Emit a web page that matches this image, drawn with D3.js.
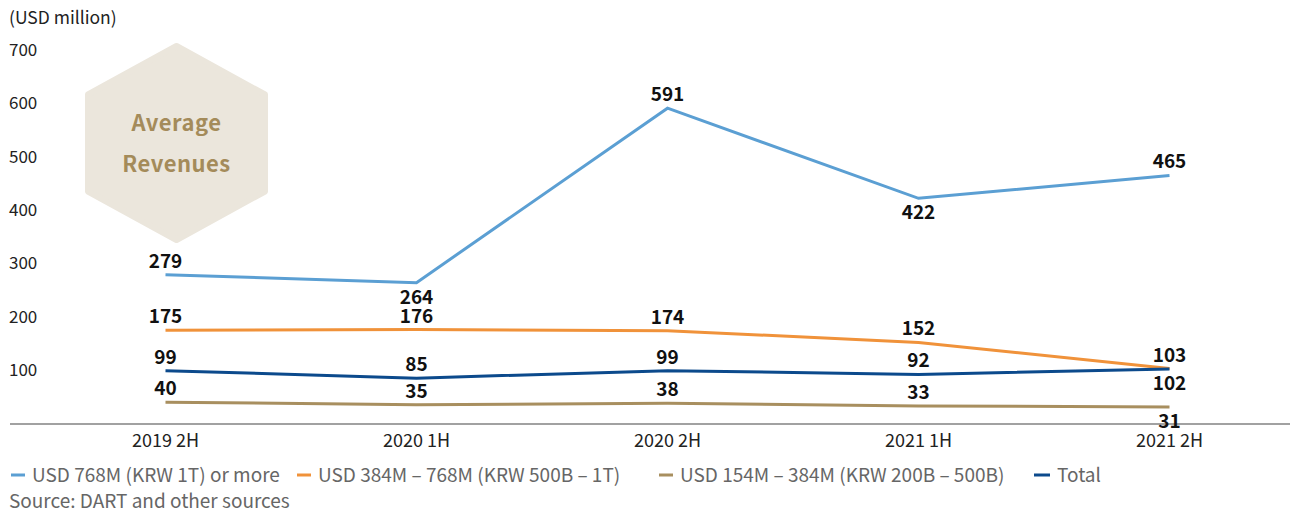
<!DOCTYPE html>
<html>
<head>
<meta charset="utf-8">
<script src="https://cdn.jsdelivr.net/npm/d3@7"></script>
<style>
  body { margin: 0; background: #fff; }
  svg text { font-family: "Noto Sans CJK KR", "Noto Sans", sans-serif; }
</style>
</head>
<body>
<div class="canvas"></div>
<script>
// data
const periods = ["2019 2H", "2020 1H", "2020 2H", "2021 1H", "2021 2H"];
const over1T = [279, 264, 591, 422, 465];
const from500Bto1T = [175, 176, 174, 152, 103];
const from200Bto500B = [40, 35, 38, 33, 31];
const total = [99, 85, 99, 92, 102];
const yTicks = [100, 200, 300, 400, 500, 600, 700];
const seriesNames = [
  "USD 768M (KRW 1T) or more",
  "USD 384M – 768M (KRW 500B – 1T)",
  "USD 154M – 384M (KRW 200B – 500B)",
  "Total"
];

const width = 1293;
const height = 512;

const svg = d3
  .select(".canvas")
  .append("svg")
  .attr("width", width)
  .attr("height", height);

// scales
const x = d3.scaleBand().domain(periods).range([40, 1295]);
const y = d3.scaleLinear().domain([0, 700]).range([423.5, 50]);
const cx = (p) => x(p) + x.bandwidth() / 2;

// label position: -1 above, 1 below
const series = [
  { values: over1T, color: "#5b9fd3", pos: [-1, 1, -1, 1, -1] },
  { values: from500Bto1T, color: "#f0923a", pos: [-1, -1, -1, -1, -1] },
  { values: from200Bto500B, color: "#a88f5f", pos: [-1, -1, -1, -1, 1] },
  { values: total, color: "#0c4a8c", pos: [-1, -1, -1, -1, 1] }
];

// hexagon badge
const hx = 176.5, hy = 143, hw = 88.5, hh = 97;
const hex = [
  [hx, hy - hh], [hx + hw, hy - hh / 2], [hx + hw, hy + hh / 2],
  [hx, hy + hh], [hx - hw, hy + hh / 2], [hx - hw, hy - hh / 2]
];
svg
  .append("path")
  .attr("d", d3.line().curve(d3.curveLinearClosed)(hex))
  .attr("fill", "#ebe6dc")
  .attr("stroke", "#ebe6dc")
  .attr("stroke-width", 6)
  .attr("stroke-linejoin", "round");

svg
  .selectAll(".badge")
  .data(["Average", "Revenues"])
  .enter()
  .append("text")
  .attr("x", hx)
  .attr("y", (d, i) => 131 + i * 41)
  .attr("text-anchor", "middle")
  .attr("font-size", 22)
  .attr("font-weight", 700)
  .attr("letter-spacing", 0.5)
  .attr("fill", "#a48b5a")
  .text((d) => d);

// unit label
svg
  .append("text")
  .attr("x", 9)
  .attr("y", 24)
  .attr("font-size", 17.5)
  .attr("fill", "#222")
  .text("(USD million)");

// y axis tick labels
svg
  .selectAll(".ytick")
  .data(yTicks)
  .enter()
  .append("text")
  .attr("x", 9)
  .attr("y", (d) => y(d) + 6)
  .attr("font-size", 17)
  .attr("fill", "#222")
  .text((d) => d);

// x axis baseline
svg
  .append("line")
  .attr("x1", 10)
  .attr("x2", 1290)
  .attr("y1", y(0) + 0.5)
  .attr("y2", y(0) + 0.5)
  .attr("stroke", "#444")
  .attr("stroke-width", 1.2);

svg
  .selectAll(".xtick")
  .data(periods)
  .enter()
  .append("text")
  .attr("x", (d) => cx(d))
  .attr("y", 447)
  .attr("text-anchor", "middle")
  .attr("font-size", 18)
  .attr("fill", "#222")
  .text((d) => d);

// lines
const line = d3
  .line()
  .x((d, i) => cx(periods[i]))
  .y((d) => y(d));

series.forEach((s) => {
  svg
    .append("path")
    .datum(s.values)
    .attr("fill", "none")
    .attr("stroke", s.color)
    .attr("stroke-width", 3)
    .attr("d", line);
});

// value labels
series.forEach((s) => {
  svg
    .selectAll(null)
    .data(s.values)
    .enter()
    .append("text")
    .attr("x", (d, i) => cx(periods[i]))
    .attr("y", (d, i) => (s.pos[i] < 0 ? y(d) - 7 : y(d) + 21))
    .attr("text-anchor", "middle")
    .attr("font-size", 19)
    .attr("font-weight", 700)
    .attr("fill", "#111")
    .text((d) => d);
});

// legend
const legendX = [11, 297, 659, 1034];
const legend = svg
  .selectAll(".legend")
  .data(seriesNames)
  .enter()
  .append("g")
  .attr("transform", (d, i) => `translate(${legendX[i]}, 475)`);

legend
  .append("line")
  .attr("x1", 0)
  .attr("x2", (d, i) => (i === 3 ? 16 : 14))
  .attr("stroke", (d, i) => series[i].color)
  .attr("stroke-width", 3);

legend
  .append("text")
  .attr("x", (d, i) => (i === 3 ? 23 : 21))
  .attr("y", 6.5)
  .attr("font-size", 19)
  .attr("fill", "#666")
  .text((d) => d);

svg
  .append("text")
  .attr("x", 9)
  .attr("y", 508)
  .attr("font-size", 19)
  .attr("fill", "#666")
  .text("Source: DART and other sources");
</script>
</body>
</html>
